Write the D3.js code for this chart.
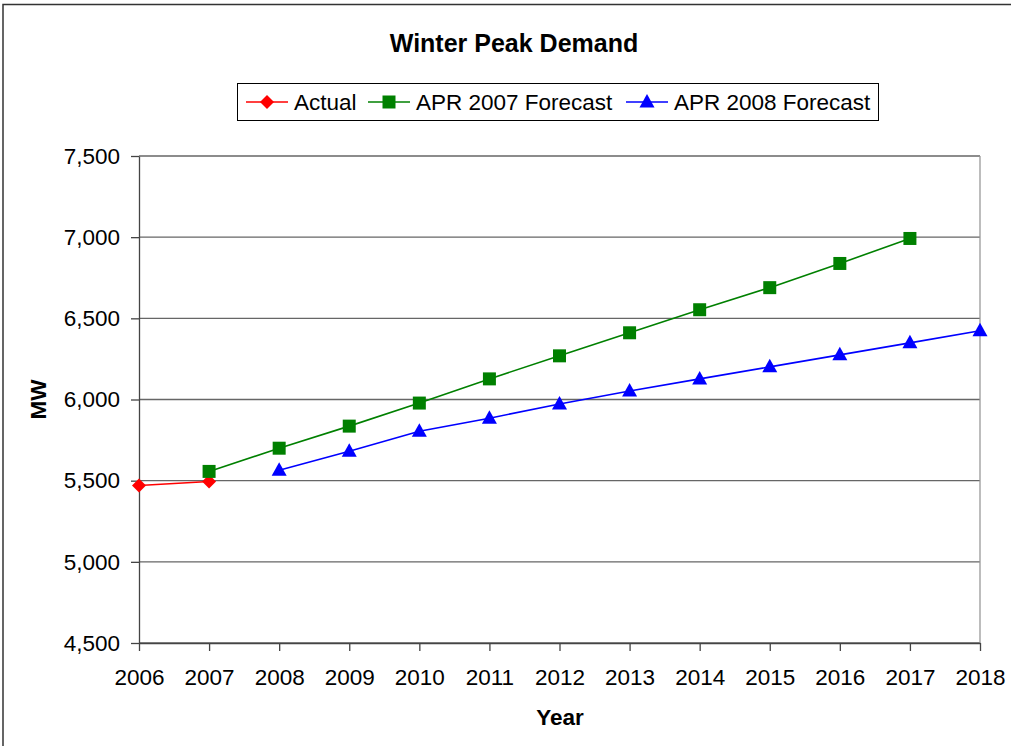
<!DOCTYPE html>
<html lang="en">
<head>
<meta charset="UTF-8">
<title>Winter Peak Demand</title>
<script src="https://d3js.org/d3.v7.min.js"></script>
<style>
  body { margin: 0; background: #fff; }
  text { font-family: "Liberation Sans", Arial, sans-serif; fill: #000; }
</style>
</head>
<body>
<div id="chart"></div>
<script>
// data
var years = [2006, 2007, 2008, 2009, 2010, 2011, 2012, 2013, 2014, 2015, 2016, 2017, 2018];
var actual = [5470, 5495];
var apr2007 = [5557, 5700, 5836, 5978, 6127, 6269, 6411, 6553, 6689, 6838, 6992];
var apr2008 = [5564, 5681, 5805, 5885, 5972, 6052, 6127, 6201, 6275, 6349, 6423];
var yTicks = [4500, 5000, 5500, 6000, 6500, 7000, 7500];

var W = 1011, H = 746;
var margin = {top: 156, right: 31, bottom: 103, left: 139};
var width = W - margin.left - margin.right,
    height = H - margin.top - margin.bottom;
var fs = 22.5;
var font = "'Liberation Sans', Arial, sans-serif";

var svg = d3.select("#chart").append("svg")
    .attr("width", W)
    .attr("height", H);

// outer chart border
svg.append("rect")
    .attr("x", 3).attr("y", 4.5)
    .attr("width", W + 10).attr("height", H + 10)
    .attr("fill", "none").attr("stroke", "#333").attr("stroke-width", 1.5);

var g = svg.append("g")
    .attr("transform", "translate(" + margin.left + "," + margin.top + ")");

var x = d3.scaleLinear().domain([2006, 2018]).range([0, width]);
var y = d3.scaleLinear().domain([4500, 7500]).range([height, 0]);

// gridlines
g.append("g")
  .selectAll("line")
  .data(yTicks)
  .enter().append("line")
    .attr("x1", 0).attr("x2", width)
    .attr("y1", function(d) { return y(d); })
    .attr("y2", function(d) { return y(d); })
    .attr("stroke", "#666").attr("stroke-width", 1.3);

// right edge of plot
g.append("line")
    .attr("x1", width).attr("x2", width)
    .attr("y1", 0).attr("y2", height)
    .attr("stroke", "#999").attr("stroke-width", 1.3);

// y axis
var yAxis = g.append("g")
    .call(d3.axisLeft(y).tickValues(yTicks).tickSize(8).tickSizeOuter(0).tickFormat(d3.format(",")));
yAxis.select(".domain").attr("stroke", "#444").attr("stroke-width", 1.3);
yAxis.selectAll(".tick line").attr("stroke", "#444").attr("stroke-width", 1.3);
yAxis.selectAll("text")
    .attr("x", -19)
    .style("font-size", fs + "px").style("font-family", font);

// x axis
var xAxis = g.append("g")
    .attr("transform", "translate(0," + height + ")")
    .call(d3.axisBottom(x).tickValues(years).tickSize(8).tickSizeOuter(0).tickFormat(d3.format("d")));
xAxis.select(".domain").attr("stroke", "#444").attr("stroke-width", 1.3);
xAxis.selectAll(".tick line").attr("stroke", "#444").attr("stroke-width", 1.3);
xAxis.selectAll("text")
    .attr("y", 42).attr("dy", null)
    .style("font-size", fs + "px").style("font-family", font);

// titles
svg.append("text")
    .attr("x", 514).attr("y", 52)
    .attr("text-anchor", "middle")
    .style("font-size", "25px").attr("font-weight", "bold")
    .text("Winter Peak Demand");

svg.append("text")
    .attr("x", 560).attr("y", 725)
    .attr("text-anchor", "middle")
    .style("font-size", fs + "px").attr("font-weight", "bold")
    .text("Year");

svg.append("text")
    .attr("transform", "translate(46," + (margin.top + y(6000)) + ") rotate(-90)")
    .attr("text-anchor", "middle")
    .style("font-size", fs + "px").attr("font-weight", "bold")
    .text("MW");

// marker shapes
function marker(shape) {
  if (shape === "diamond") return "M0,-7L7,0L0,7L-7,0Z";
  if (shape === "square") return "M-6.5,-6.5H6.5V6.5H-6.5Z";
  return "M0,-8L7.5,5.5H-7.5Z";
}

var series = [
  {name: "Actual", start: 2006, values: actual, color: "#ff0000", shape: "diamond"},
  {name: "APR 2007 Forecast", start: 2007, values: apr2007, color: "#008000", shape: "square"},
  {name: "APR 2008 Forecast", start: 2008, values: apr2008, color: "#0000ff", shape: "triangle"}
];

var line = d3.line()
    .x(function(d) { return x(d.year); })
    .y(function(d) { return y(d.value); });

series.forEach(function(s) {
  var pts = s.values.map(function(v, i) { return {year: s.start + i, value: v}; });
  g.append("path")
      .datum(pts)
      .attr("fill", "none")
      .attr("stroke", s.color)
      .attr("stroke-width", 1.6)
      .attr("d", line);
  g.selectAll(null)
      .data(pts)
      .enter().append("path")
      .attr("transform", function(d) { return "translate(" + x(d.year) + "," + y(d.value) + ")"; })
      .attr("d", marker(s.shape))
      .attr("fill", s.color);
});

// legend
var legend = svg.append("g");
legend.append("rect")
    .attr("x", 237.5).attr("y", 83.5)
    .attr("width", 641).attr("height", 37)
    .attr("fill", "#fff").attr("stroke", "#000").attr("stroke-width", 1);

var legendX = [246, 368, 626];
series.forEach(function(s, i) {
  var lg = legend.append("g").attr("transform", "translate(" + legendX[i] + ",102)");
  lg.append("line").attr("x1", 0).attr("x2", 42).attr("stroke", s.color).attr("stroke-width", 1.6);
  lg.append("path")
      .attr("transform", "translate(21,0)")
      .attr("d", marker(s.shape))
      .attr("fill", s.color);
  lg.append("text")
      .attr("x", 48).attr("y", 8)
      .style("font-size", fs + "px")
      .text(s.name);
});
</script>
</body>
</html>
